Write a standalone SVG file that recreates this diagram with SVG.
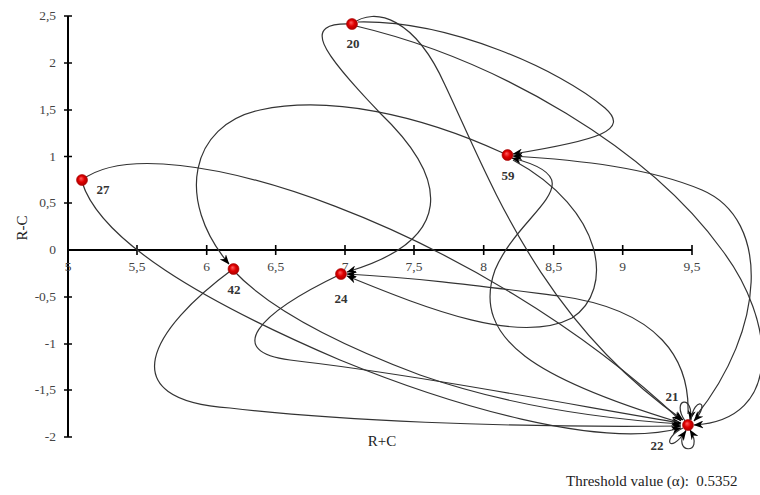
<svg xmlns="http://www.w3.org/2000/svg" width="760" height="495" viewBox="0 0 760 495">
<style>
.ax{stroke:#000;stroke-width:2;fill:none}
.tk{stroke:#000;stroke-width:1.6}
.tl{font-family:"Liberation Serif",serif;font-size:13.5px;fill:#444}
.tt{font-family:"Liberation Serif",serif;font-size:15px;fill:#222}
.nl{font-family:"Liberation Serif",serif;font-size:13px;font-weight:bold;fill:#333;text-anchor:middle}
.e{fill:none;stroke:#333;stroke-width:1.2}
.ea{fill:none;stroke:#333;stroke-width:1.2;marker-end:url(#ah)}
.nd{fill:url(#rg);stroke:#b00000;stroke-width:0.6}
</style>
<defs>
<marker id="ah" viewBox="0 0 10 8" refX="9.5" refY="4" markerWidth="10" markerHeight="8" markerUnits="userSpaceOnUse" orient="auto">
<path d="M0,0 L10,4 L0,8 L3,4 z" fill="#000"/>
</marker>
<radialGradient id="rg" cx="0.5" cy="0.5" r="0.55" fx="0.4" fy="0.35">
<stop offset="0" stop-color="#ff6060"/>
<stop offset="0.5" stop-color="#e00000"/>
<stop offset="1" stop-color="#a00000"/>
</radialGradient>
</defs>
<rect width="760" height="495" fill="#fff"/>
<g id="axes">
<path class="ax" d="M68,16 V437 M68,250 H692"/>
<path class="tk" d="M64,16 H72 M64,63 H72 M64,110 H72 M64,156.5 H72 M64,203 H72 M64,297 H72 M64,344 H72 M64,390 H72 M64,437 H72 M137,245 V255 M206.7,245 V255 M275.7,245 V255 M345,245 V255 M414,245 V255 M483.7,245 V255 M553.7,245 V255 M622.7,245 V255 M692,245 V255"/>
<g class="tl" text-anchor="end">
<text x="56" y="20">2,5</text><text x="56" y="67">2</text><text x="56" y="114">1,5</text><text x="56" y="161">1</text><text x="56" y="207">0,5</text><text x="56" y="254">0</text><text x="56" y="301">-0,5</text><text x="56" y="348">-1</text><text x="56" y="394">-1,5</text><text x="56" y="441">-2</text>
</g>
<g class="tl" text-anchor="middle">
<text x="68" y="271">5</text><text x="137" y="271">5,5</text><text x="206.7" y="271">6</text><text x="275.7" y="271">6,5</text><text x="345" y="271">7</text><text x="414" y="271">7,5</text><text x="483.7" y="271">8</text><text x="553.7" y="271">8,5</text><text x="622.7" y="271">9</text><text x="692" y="271">9,5</text>
</g>
<text class="tt" x="27" y="228" text-anchor="middle" transform="rotate(-90 27 228)">R-C</text>
<text class="tt" x="382" y="446" text-anchor="middle">R+C</text>
<text class="tt" x="566" y="486" xml:space="preserve">Threshold value (α):  0.5352</text>
</g>
<g id="connectors">
<path class="ea" d="M82,180 C160,120 480,230 681,421"/>
<path class="ea" d="M82,182 C100,240 200,300 340,360 C450,405 600,450 681,428"/>
<path class="ea" d="M233,270 C270,310 340,345 420,375 C520,410 620,420 681,424"/>
<path class="ea" d="M233,269 C150,330 110,400 230,408 C330,420 500,428 681,426"/>
<path class="ea" d="M341,274 C255,315 225,352 290,360 C420,375 600,410 681,423"/>
<path class="ea" d="M352,24 C375,6 415,18 445,85 C490,180 540,320 683,420"/>
<path class="ea" d="M352,24 C300,22 320,50 380,113 C450,180 455,240 347,272"/>
<path class="ea" d="M356,26 C500,60 650,150 722,250 C775,320 785,420 694,425"/>
<path class="ea" d="M358,22 C450,20 560,70 605,108 C630,130 600,140 513,154"/>
<path class="ea" d="M696,416 C765,330 772,220 702,190 C650,168 580,160 513,156"/>
<path class="ea" d="M678,422 C540,380 470,340 495,270 C520,210 600,180 512,158"/>
<path class="ea" d="M513,160 C605,210 615,290 572,318 C520,345 430,310 347,276"/>
<path class="ea" d="M688,414 C690,360 660,310 560,296 C480,286 420,278 347,274"/>
<path class="ea" d="M503,153 C420,115 330,95 260,110 C190,125 175,200 229,264"/>
<path class="ea" d="M685,421 C670,398 695,394 690,420"/>
<path class="ea" d="M691,420 C694,396 712,401 694,421"/>
<path class="ea" d="M686,430 C670,454 706,456 690,430"/>
<path class="ea" d="M683,428 C662,438 668,456 686,431"/>
</g>
<g id="n27"><circle class="nd" cx="82" cy="180" r="5.5"/><text class="nl" x="103" y="194">27</text></g>
<g id="n20"><circle class="nd" cx="352" cy="24" r="5.5"/><text class="nl" x="353" y="48">20</text></g>
<g id="n59"><circle class="nd" cx="507.5" cy="155" r="5.5"/><text class="nl" x="508" y="180">59</text></g>
<g id="n42"><circle class="nd" cx="233.5" cy="269" r="5.5"/><text class="nl" x="234" y="294">42</text></g>
<g id="n24"><circle class="nd" cx="341" cy="274" r="5.5"/><text class="nl" x="341" y="303">24</text></g>
<g id="n21"><circle class="nd" cx="688" cy="425" r="5.5"/><text class="nl" x="672" y="401">21</text></g>
<g id="n22"><text class="nl" x="657" y="450">22</text></g>
</svg>
